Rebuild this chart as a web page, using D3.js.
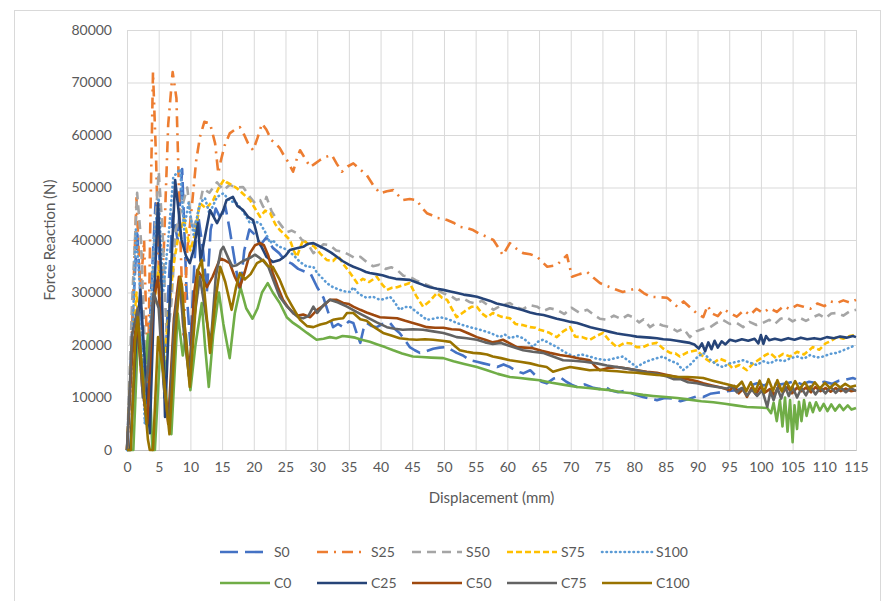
<!DOCTYPE html>
<html><head><meta charset="utf-8">
<script src="https://cdn.jsdelivr.net/npm/d3@7"></script>
<style>
html,body{margin:0;padding:0;background:#fff;}
svg text{font-family:Lato,"Open Sans",sans-serif;fill:#595959;}
</style></head>
<body><svg id="c" width="885" height="601"></svg>
<script>
const xTicks = [0,5,10,15,20,25,30,35,40,45,50,55,60,65,70,75,80,85,90,95,100,105,110,115];
const yTicks = [0,10000,20000,30000,40000,50000,60000,70000,80000];
const seriesNames = ["S0","S25","S50","S75","S100","C0","C25","C50","C75","C100"];

const S0 = [[0,0],[0.7,20000],[1.6,42000],[2.3,25000],[3,5000],[3.8,30000],[4.5,47000],[5.2,35000],[5.9,10000],[6.5,30000],[7.2,45000],[8,40000],[8.7,53500],[9.4,30000],[10,20000],[10.6,35000],[11.2,45000],[12,38000],[12.6,30000],[13.2,42000],[14,46000],[14.8,44000],[15.5,46500],[16.2,42000],[17,36000],[17.8,30000],[18.5,38000],[19.3,42000],[20.2,41000],[21,39000],[22,40500],[23,38500],[24,37500],[25,36000],[26,35500],[27,34500],[28,34000],[29,33500],[30,31000],[31,29000],[31.8,26000],[32.5,23400],[33.3,24000],[34.1,23400],[35,24500],[35.7,24200],[36.3,22000],[36.8,20400],[37.3,23000],[37.8,24200],[38.6,23600],[39.4,23400],[40.3,24000],[41.5,24200],[42.3,23000],[43,22300],[43.8,21000],[44.6,19600],[45.4,19000],[46.2,18500],[47.2,18800],[48.3,19300],[49.3,19500],[50.5,19600],[51.3,19000],[52,18500],[53,18000],[54.1,17100],[55.2,16800],[56.2,16500],[57.3,16200],[58.4,15800],[59.4,16300],[60.4,15800],[61.5,15000],[62.5,14600],[63.6,15200],[64.6,14000],[65.4,13000],[66.2,12700],[67.3,13600],[68.3,13900],[69.3,13000],[70.2,12400],[71,12000],[72.2,12500],[73.4,11900],[74.5,11600],[75.4,12100],[76.2,11400],[77.5,11000],[78.7,11300],[80,10600],[81.4,10100],[82.5,9800],[83.6,9500],[84.8,9900],[86.1,9800],[87.3,9300],[88.6,9700],[89.8,10200],[90.9,10100],[92,10700],[93.1,10900],[94.2,11100],[95.3,11300],[96.2,11400],[97.3,11900],[98.4,12300],[99.4,12700],[100.5,12300],[101.6,12900],[102.7,12400],[104.1,12700],[105.3,13100],[106.5,12500],[107.6,13000],[108.8,12700],[110,13000],[111.2,12600],[112.3,13200],[113.4,13400],[114.5,13700],[115,13500]];

const S25 = [[0,0],[0.5,12000],[1,30000],[1.5,48000],[2.1,30000],[2.7,40000],[3.3,12000],[3.7,45000],[4.1,72000],[4.6,55000],[5.2,25000],[5.8,38000],[6.5,62000],[7.2,72000],[7.8,67000],[8.3,45000],[8.9,22000],[9.5,38000],[10.2,46000],[10.9,55000],[11.5,59600],[12.2,62500],[13.1,62200],[13.9,58400],[14.4,52700],[14.7,54600],[15.4,58000],[16.2,60300],[17,61000],[17.8,61500],[18.5,60000],[19.1,58400],[19.9,57100],[20.6,59500],[21.3,62200],[22,61000],[22.8,59000],[23.5,58300],[24.1,57500],[24.8,56000],[25.4,54900],[26.2,53000],[26.8,55500],[27.3,57100],[28.1,55500],[28.9,53900],[29.6,54500],[30.4,55200],[31.3,55800],[32.3,56200],[33.1,54500],[33.9,53000],[34.8,54000],[35.7,54600],[36.8,53400],[37.8,52400],[38.8,50500],[39.9,48900],[41,49300],[42,49500],[42.8,48500],[43.5,47600],[44.6,47800],[45.7,47600],[46.5,46200],[47.3,45100],[48.1,44700],[48.9,44200],[49.7,44100],[50.5,43800],[51.5,43300],[52.5,42500],[53.6,42300],[54.6,41900],[55.7,41100],[56.8,40600],[57.8,40000],[58.6,38500],[59.3,37100],[60.4,39400],[61.5,38300],[62.5,37500],[63.6,37300],[64.7,36800],[65.5,35800],[66.3,34900],[67.8,35200],[68.6,36200],[69.4,37100],[70.2,33000],[71.4,33500],[72.6,33900],[73.6,32800],[74.6,31800],[75.8,31200],[77,30600],[78.2,30100],[79.4,30500],[80.5,30800],[81.5,29900],[82.5,29200],[83.8,29100],[85.2,29000],[86,28200],[86.8,27300],[87.8,28300],[88.8,27200],[89.9,26000],[90.9,25300],[91.6,27500],[92.3,26000],[93.2,25500],[94.1,26800],[95.1,26100],[96.2,25400],[97.3,26600],[98.3,25700],[99.3,26900],[100.3,26100],[101.4,27000],[102.5,26300],[103.6,27400],[104.6,26800],[105.7,27600],[106.7,27300],[107.8,26900],[108.9,27900],[110,27400],[111,28300],[112,28000],[113,28500],[114,28100],[115,28600]];

const S50 = [[0,0],[0.8,28000],[1.6,49000],[2.2,40000],[2.8,20000],[3.4,10000],[4.2,38000],[5,53000],[5.6,42000],[6.3,20000],[7,28000],[7.7,42000],[8.4,45000],[9.5,50000],[10.3,42000],[11,44000],[12,49800],[13,49000],[14.2,51000],[15.2,49500],[16.2,50500],[17.2,50000],[18.3,50100],[19.4,48200],[20.2,47000],[21,47600],[21.5,46300],[22,48200],[22.8,45500],[23.7,43800],[24.5,42500],[25.2,41500],[26,41800],[26.8,41300],[27.6,40000],[28.4,39500],[29.4,37500],[30.2,38200],[31,39200],[32,39000],[33,38000],[34,37800],[35,37200],[36,36500],[36.8,36800],[37.8,35800],[38.8,35000],[39.8,35300],[40.8,34500],[41.7,34800],[42.6,34300],[43.6,33200],[44.6,33000],[45.6,32300],[46.6,31800],[47.8,31200],[48.9,30500],[50,29800],[51,29400],[52,28600],[53,28900],[54,28200],[55,27900],[56,28400],[57,27500],[57.8,26700],[58.8,27400],[60.4,28000],[61.4,27200],[62.4,26800],[63.5,27600],[64.7,27300],[65.7,26500],[66.7,27000],[67.8,26700],[69,25900],[70.1,27100],[71.3,26200],[72.6,26700],[73.6,25800],[74.6,25000],[75.7,24800],[76.8,25600],[78,24900],[79,25700],[79.8,25300],[80.8,24300],[81.5,24900],[82.5,23400],[83.5,24200],[84.5,23700],[85.7,23400],[86.8,22600],[87.8,23100],[88.8,21500],[89.8,22600],[90.9,23100],[92,23400],[93,24200],[94,24800],[95.1,24000],[96.2,24200],[97.2,23400],[98.2,24400],[99.3,23800],[100.3,24200],[101.3,24800],[102.2,24000],[103.1,25000],[104,25300],[105,24500],[106.1,25200],[107.1,24600],[108.2,25300],[109.2,25800],[110.2,25100],[111.1,26000],[112,26100],[113,25600],[114,26400],[115,26700]];

const S75 = [[0,0],[0.8,20000],[1.5,30000],[2.2,15000],[3,8000],[4,25000],[5,35000],[5.7,15000],[6.5,25000],[7.3,35000],[8,40000],[9,44000],[10,38000],[10.7,41000],[11.5,47000],[12.5,46000],[13.6,47600],[14.5,50000],[15.3,51500],[15.7,51000],[16.5,50500],[17.3,49900],[18.3,48800],[19.4,47600],[20.2,46000],[21,44400],[21.8,45600],[22.6,45100],[23.4,43000],[24.1,41900],[24.9,41000],[25.7,40000],[26.3,38000],[26.8,36800],[27.3,38500],[27.8,40000],[28.6,39200],[29.5,38800],[30.5,37400],[31.5,36200],[32.5,36000],[33.3,37000],[34.2,35300],[35.2,33700],[36.3,31800],[37.2,32600],[38.2,32000],[39.4,33000],[40.2,31600],[41,30500],[41.8,30900],[42.6,31000],[43.6,31400],[44.6,31800],[45.6,29400],[46.7,27300],[47.8,28400],[48.9,29900],[49.7,29000],[50.5,28600],[51.3,26800],[52,25300],[52.8,26000],[53.6,26700],[54.4,27300],[55.2,27300],[56,26000],[56.8,25300],[57.7,26100],[59,25400],[60.4,25100],[61.3,24000],[62.4,23800],[63.6,23400],[64.4,23300],[65.1,22900],[66.5,22400],[67.8,21500],[68.8,22600],[69.9,23400],[70.7,21600],[71.8,21500],[73,21000],[74,21700],[75.1,22300],[76.2,20700],[77.3,19600],[78.5,20400],[79.5,20300],[80.4,19600],[81.4,19600],[82.5,20200],[83.6,20400],[84.6,19300],[85.7,18500],[86.5,18400],[87.2,17800],[88.4,18600],[89.9,19000],[91.1,17500],[92.4,16500],[93.5,17400],[94.5,16900],[95.5,15600],[96.6,16200],[97.8,15200],[98.8,16500],[99.8,17300],[100.6,18000],[101.4,18500],[102.4,17500],[103.5,18300],[104.6,17800],[105.7,18700],[106.8,18200],[108.2,19600],[109.2,19100],[110.2,20300],[111.1,20800],[112,21500],[113,21200],[114,21700],[115,21900]];

const S100 = [[0,0],[0.7,15000],[1.4,42000],[2.1,30000],[2.8,5000],[3.5,20000],[4.3,40000],[5,48000],[5.7,30000],[6.5,40000],[7.3,52000],[8.4,53500],[9,42000],[9.7,47000],[10.5,41000],[11.5,47000],[12.3,48000],[13,45000],[14.2,48200],[15.2,48900],[16.2,47500],[17.3,47000],[18.3,45500],[19.4,43200],[20.2,43500],[21,43200],[21.8,41500],[22.6,39400],[23,40000],[23.8,38800],[24.6,38500],[25.2,38100],[26.2,37200],[27.3,35800],[28.4,34900],[29.4,34900],[30,33700],[31,32500],[31.5,31800],[32.5,31000],[33.6,30500],[34.4,30200],[35.2,30100],[35.7,31000],[36.6,29700],[37.8,29000],[38.8,29200],[39.9,28600],[40.7,28800],[41.5,29200],[42.2,28200],[43,26700],[43.8,27200],[44.6,27300],[46,26000],[47.3,24800],[48.3,25000],[49.4,25300],[50.7,24900],[52,24200],[53,23800],[54.1,23400],[55.7,22900],[57.3,22300],[58.8,21500],[59.6,22000],[60.4,21300],[61.5,21700],[62.5,21300],[63.3,20500],[64,19600],[64.8,20600],[65.6,21000],[66.7,20300],[67.8,19600],[69,18700],[70.4,17800],[71.7,18200],[73,17800],[74.4,17300],[75.7,17100],[77,17500],[78.2,17800],[79.3,16800],[80.4,15800],[81.5,16600],[82.5,17100],[83.6,17500],[84.6,17800],[85.7,17000],[86.8,16500],[87.7,15200],[88.8,16200],[89.9,17600],[90.9,18500],[92,17200],[93,16300],[94,15800],[95.1,16500],[96.2,16800],[97.2,17100],[98.3,16600],[99.3,16200],[100.4,16900],[101.4,16500],[102.6,17200],[103.6,16900],[104.7,17500],[105.7,17800],[106.8,17400],[107.8,18100],[108.8,17600],[109.8,17800],[110.9,18300],[112,18500],[113,19000],[114,19500],[115,20000]];

const C0 = [[0,0],[1,0],[1.8,24000],[2.6,12000],[3.3,22000],[4,0],[4.4,0],[5.5,25000],[6.3,8000],[7,3000],[8,26000],[8.8,18000],[9.3,22000],[10,11400],[10.8,20000],[11.8,28000],[12.3,20000],[12.9,12000],[13.6,22000],[14.5,30000],[15.2,24000],[16.2,17500],[17,26000],[17.9,31000],[18.8,27000],[19.8,25000],[20.6,27000],[21.3,30000],[22.2,31800],[23,30000],[24.1,28000],[25.2,25300],[26.2,24200],[27.3,23300],[28.4,22300],[29.9,21000],[31,21200],[32,21500],[33,21300],[34,21700],[35,21600],[36,21400],[37,21000],[38.3,20600],[39.5,20100],[40.7,19600],[42,19000],[43.4,18400],[45.1,17800],[46.5,17700],[48,17600],[49.9,17500],[51.5,16900],[53.2,16400],[55.2,15800],[56.8,15200],[58.5,14500],[60.4,13900],[62,13700],[63.5,13500],[65.1,13300],[67,12800],[69,12400],[71,12000],[72.8,11800],[74.5,11600],[76.2,11400],[78,11000],[79.7,10800],[81.4,10500],[83,10300],[85,10100],[86.8,9900],[88.7,9600],[90.6,9300],[92.5,9100],[94.3,8800],[96,8500],[97.8,8200],[99.5,8100],[101,8000],[101.6,7000],[102,9000],[102.5,5500],[103,9500],[103.4,4500],[103.8,10000],[104.2,3500],[104.6,9500],[105,1500],[105.3,8500],[105.7,4000],[106,9200],[106.4,5500],[106.8,9500],[107.2,6500],[107.7,9000],[108.2,7200],[108.7,9100],[109.3,7500],[109.9,8800],[110.5,7400],[111.1,8700],[111.7,7500],[112.4,8600],[113,7600],[113.7,8500],[114.3,7700],[115,8000]];

const C25 = [[0,0],[0.5,0],[1.3,18000],[2.1,30500],[2.9,15000],[3.6,3200],[4.3,30000],[4.9,47000],[5.5,30000],[6,6300],[6.8,30000],[7.6,51400],[8.1,46000],[8.6,40000],[9.3,37000],[9.9,35600],[10.5,38000],[11.2,43200],[11.6,36000],[12.2,40000],[13.1,45700],[14.2,43200],[15.2,45700],[15.7,47600],[16.7,48200],[17.4,46500],[18.3,45700],[19.1,44400],[19.9,43800],[20.3,42000],[20.7,40000],[21.3,38500],[22,36800],[23,35800],[24.1,36200],[25,37000],[25.7,38100],[26.6,38400],[27.8,38700],[28.6,39300],[29.4,39400],[30.2,38900],[31.2,38300],[32.2,37600],[33.1,36800],[34,36000],[35,35300],[35.7,34900],[36.8,34400],[37.7,33900],[38.3,33700],[39.3,33500],[40.3,33300],[41.3,32900],[42.4,32600],[43.5,32500],[44.6,32400],[45.7,31900],[46.8,31400],[47.8,31000],[48.9,30700],[49.9,30500],[51,30200],[52.1,29900],[53.1,29600],[54.2,29400],[55.2,29200],[56.2,28800],[57.3,28400],[58.3,27900],[59.4,27600],[60.4,27300],[61.4,27000],[62.5,26600],[63.6,26200],[64.6,25900],[65.7,25700],[66.7,25400],[67.8,25000],[68.9,24700],[70,24400],[71,24200],[72,23800],[73.1,23400],[74.1,23100],[75.2,22800],[76.2,22500],[77.3,22200],[78.3,22000],[79.4,21800],[80.4,21600],[81.4,21500],[82.5,21400],[83.6,21300],[84.6,21100],[85.7,21000],[86.7,20800],[87.8,20600],[88.8,20400],[89.5,20100],[90.2,19300],[90.7,20300],[91.2,18800],[91.7,20500],[92.2,19200],[92.7,20800],[93.2,19500],[93.8,20700],[94.4,20100],[95.1,21000],[96,20700],[97,21100],[98,20800],[99,21200],[99.6,20300],[100,21900],[100.4,20200],[100.8,21700],[101.3,20900],[102.2,21200],[103.2,20900],[104.3,21300],[105.3,21000],[106.3,21400],[107.3,21100],[108.4,21300],[109.4,21100],[110.4,21500],[111.5,21300],[112.5,21600],[113.5,21400],[114.5,21700],[115,21500]];

const C50 = [[0,0],[0.8,18000],[1.6,25000],[2.4,12000],[3.2,5000],[4.1,28000],[4.9,33000],[5.7,15000],[6.5,5000],[7.4,25000],[8.2,33000],[9,25000],[9.8,14000],[10.6,30000],[11.1,34300],[11.8,33000],[12.6,31000],[13.5,33000],[14.7,36500],[15.3,36200],[16.2,35600],[17,33000],[17.8,31000],[18.6,34000],[19.4,37500],[20.2,39000],[21,39400],[21.6,39000],[22.3,37000],[23,33700],[23.8,31000],[24.6,28600],[25.4,27200],[26.2,26100],[27,25600],[27.8,25800],[28.9,25300],[30,26700],[31,27500],[32,28600],[33.1,28600],[34.1,28000],[35,27800],[35.7,27300],[36.8,26700],[37.8,26200],[38.9,25700],[39.9,25300],[41.2,25200],[42.6,25100],[43.9,24600],[45.1,24200],[46.2,23800],[47.3,23400],[48.6,23300],[49.9,23300],[51.2,23000],[52.5,22900],[53.9,22200],[55.2,21500],[56.5,21000],[57.7,20500],[58.5,20700],[59.3,21000],[60.4,20300],[61.5,19600],[62.8,19500],[64,19400],[65.4,18900],[66.7,18500],[68.3,18100],[69.9,17800],[71.5,17400],[73,17100],[73.8,16000],[74.6,15200],[75.9,15600],[77.3,15800],[78.9,15500],[80.4,15200],[82,14900],[83.6,14700],[85.2,14300],[86.8,13900],[88.4,13500],[89.9,13100],[90.9,12700],[92.3,12300],[93.7,11900],[95.1,11400],[95.8,12200],[96.5,10800],[97.2,11600],[97.8,10100],[98.5,11800],[99.2,10600],[99.9,12000],[100.6,10900],[101.4,11600],[102.1,10500],[102.8,12100],[103.5,11000],[104.2,12000],[104.9,10800],[105.7,11900],[106.4,11200],[107.1,11900],[107.9,11000],[108.6,12000],[109.4,11200],[110.2,11800],[111,11100],[111.8,11800],[112.6,11200],[113.4,11700],[114.2,11200],[115,11400]];

const C75 = [[0,0],[0.8,22000],[1.7,27000],[2.5,10000],[3.3,15000],[4.2,30000],[5,27000],[5.8,12000],[6.6,5000],[7.5,25000],[8.3,32000],[9,22000],[9.8,14000],[10.6,25000],[11.5,33000],[12.4,26000],[13.2,20000],[14,33000],[14.8,38000],[15.2,38700],[16,36500],[16.6,35000],[17.3,35200],[18.3,36000],[19.4,36600],[20.2,37200],[20.7,36800],[21.5,36000],[22.3,34900],[23.2,32000],[24.1,29200],[25.2,27400],[26.2,26100],[27,25300],[27.8,25100],[28.6,25500],[29.4,27300],[30,26100],[31,27600],[32,28600],[33.3,28100],[34.7,27300],[36.2,26300],[37.8,25300],[39.4,24300],[41,23400],[42.2,23100],[43.5,22900],[45.1,23000],[46.7,22900],[48.3,22600],[49.9,22300],[51,21900],[52,21500],[53.6,21300],[55.2,21000],[56.5,20500],[57.7,20200],[59,20400],[60.4,19800],[61.5,19400],[62.5,19000],[64,18700],[65.6,18500],[67.2,17800],[68.8,17100],[70.4,17000],[72.2,16800],[74.1,16500],[75.7,16100],[77.3,15800],[78.9,15500],[80.4,15200],[82,14800],[83.6,14500],[85.2,14000],[86.2,13500],[87.3,13500],[88.5,12900],[89.9,12700],[91.5,12300],[93.1,12000],[94.6,11700],[95.4,12200],[96.2,11000],[97,11800],[97.8,10400],[98.6,11500],[99.4,10300],[100.2,11400],[101,8200],[101.5,11200],[102,9500],[102.6,11800],[103.2,9800],[103.8,12200],[104.4,10300],[105,12000],[105.7,10000],[106.4,11800],[107.1,10400],[107.8,12100],[108.6,10600],[109.4,11900],[110.2,10800],[111,12000],[111.8,10900],[112.6,11900],[113.4,11000],[114.2,11800],[115,11200]];

const C100 = [[0,0],[0.6,0],[1.3,21000],[1.7,25300],[2.5,13300],[3.3,2000],[3.6,0],[4.1,0],[4.9,21500],[5.7,15000],[6.7,3000],[7.6,22000],[8.4,33000],[8.7,31000],[9.3,20000],[9.9,12000],[10.7,25000],[11.2,34300],[11.8,36200],[12.3,29000],[13.1,18500],[13.9,28000],[14.7,34900],[15.5,32000],[16.5,26700],[17.2,31000],[17.8,33700],[18.6,32500],[19.5,33500],[20.5,35600],[21.5,36200],[22.3,35000],[23,34900],[24.1,32400],[25.2,29200],[26,27500],[27.3,24800],[28.4,23600],[29.4,23400],[30.5,23900],[31.5,24200],[32.5,24800],[33.4,25000],[34.1,25100],[34.7,26100],[35.7,26100],[36.8,24900],[37.8,24600],[39,23400],[40.4,22300],[41.7,21800],[43,21300],[44.4,21100],[45.7,21000],[47,21100],[48.3,21000],[49.7,20800],[51,20600],[51.8,19700],[52.5,19000],[53.6,18700],[54.6,18500],[55.7,18400],[56.8,18200],[57.7,17800],[59,17500],[60.4,17100],[62,16800],[63.6,16500],[64.9,16100],[66.2,15800],[67.2,14900],[68.5,15400],[69.9,15800],[71.5,15500],[73,15200],[74.5,15300],[75.9,15100],[77.3,15000],[78.9,14800],[80.4,14700],[82,14500],[83.6,14300],[85.2,14200],[86.8,13900],[88.4,13900],[89.9,13800],[90.9,13700],[92.4,13200],[94,12700],[95.1,12400],[96.2,12000],[97,13000],[97.7,11200],[98.4,12900],[99.1,11100],[99.8,13200],[100.5,11000],[101.2,13500],[101.9,11300],[102.6,13300],[103.3,11200],[104,13000],[104.7,11500],[105.4,13100],[106.1,11600],[106.9,12900],[107.7,11500],[108.5,12900],[109.3,11700],[110.1,12800],[110.9,11800],[111.7,12700],[112.5,11900],[113.3,12600],[114.1,12000],[115,12300]];

const seriesData = [S0,S25,S50,S75,S100,C0,C25,C50,C75,C100];
const colors = ["#4472C4","#ED7D31","#A5A5A5","#FFC000","#5B9BD5","#70AD47","#264478","#9E480E","#636363","#997300"];
const dashes = ["18,7","11,6,2,6","9,6","6,3","2,2.5",null,null,null,null,null];

const svg = d3.select("#c");
const W = 885, H = 601;
const L = 127, R = 856, T = 30, B = 450;
const x = d3.scaleLinear().domain([0,115]).range([L,R]);
const y = d3.scaleLinear().domain([0,80000]).range([B,T]);

// outer chart border
svg.append("rect").attr("x",14.5).attr("y",10.5).attr("width",866).attr("height",600)
  .attr("fill","none").attr("stroke","#D9D9D9").attr("stroke-width",1);

// gridlines
const gy = svg.append("g").attr("transform",`translate(${L},0)`)
  .call(d3.axisLeft(y).tickValues(yTicks).tickSize(-(R-L)).tickFormat(d=>d).tickPadding(15));
gy.select(".domain").remove();
gy.selectAll("line").attr("stroke","#D9D9D9").attr("stroke-width",1);
gy.selectAll("text").attr("font-size",14).attr("fill","#595959").style("font-family","Lato, sans-serif");

const gx = svg.append("g").attr("transform",`translate(0,${B})`)
  .call(d3.axisBottom(x).tickValues(xTicks).tickSize(-(B-T)).tickFormat(d=>d).tickPadding(12));
gx.select(".domain").attr("stroke","#BFBFBF");
gx.selectAll("line").attr("stroke","#D9D9D9").attr("stroke-width",1);
gx.selectAll("text").attr("font-size",14).attr("fill","#595959").style("font-family","Lato, sans-serif");

// series
const line = d3.line().x(d=>x(d[0])).y(d=>y(d[1]));
const plot = svg.append("g");
seriesData.forEach((data,i)=>{
  const p = plot.append("path").datum(data).attr("d",line)
    .attr("fill","none").attr("stroke",colors[i]).attr("stroke-width",2.6)
    .attr("stroke-linejoin","round");
  if (dashes[i]) p.attr("stroke-dasharray",dashes[i]);
  if (i===4) p.attr("stroke-linecap","round").attr("stroke-dasharray","0.5,4");
});

// axis titles
svg.append("text").attr("x",(L+R)/2).attr("y",503).attr("text-anchor","middle")
  .attr("font-size",15).text("Displacement (mm)");
svg.append("text").attr("transform",`translate(55,${(T+B)/2}) rotate(-90)`).attr("text-anchor","middle")
  .attr("font-size",15).text("Force Reaction (N)");

// legend
const legX = [220,317,412,507,602];
const legY = [552,583];
seriesNames.forEach((n,i)=>{
  const col = i%5, row = Math.floor(i/5);
  const lx = legX[col], ly = legY[row];
  const ln = svg.append("line").attr("x1",lx).attr("x2",lx+50).attr("y1",ly).attr("y2",ly)
    .attr("stroke",colors[i]).attr("stroke-width",2.6);
  if (dashes[i]) ln.attr("stroke-dasharray",dashes[i]);
  if (i===4) ln.attr("stroke-linecap","round").attr("stroke-dasharray","0.5,4");
  svg.append("text").attr("x",lx+54).attr("y",ly).attr("dy","0.35em")
    .attr("font-size",14).text(n);
});
</script></body></html>
